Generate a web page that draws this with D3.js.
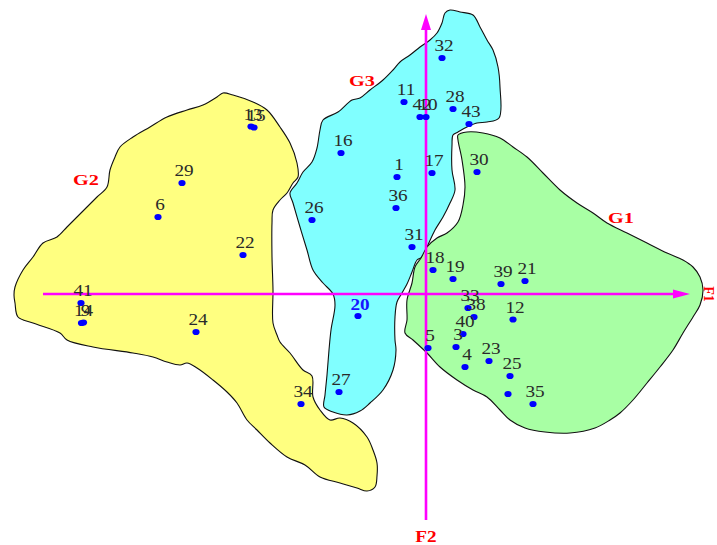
<!DOCTYPE html>
<html>
<head>
<meta charset="utf-8">
<script src="https://cdn.jsdelivr.net/npm/d3@7"></script>
<style>
  html, body { margin: 0; padding: 0; background: #ffffff; }
  svg { display: block; }
</style>
</head>
<body>
<svg id="chart" width="717" height="545"></svg>
<script>
// Individuals on the F1 x F2 factorial plane
const pointIds = ["1","3","4","5","6","9","10","11","12","13","14","15","16","17","18","19","20","21","22","23",
                  "24","25","26","27","28","29","30","31","32","33","34","35","36","","38","39","40","41","42","43"];
const f1Values = [-0.29, 0.30, 0.39, 0.02, -2.68, -3.425, 0.00, -0.22, 0.87, -1.75, -3.445, -1.72, -0.85, 0.06, 0.07, 0.27, -0.68, 0.99, -1.83, 0.63,
                  -2.30, 0.84, -1.14, -0.87, 0.27, -2.44, 0.51, -0.14, 0.16, 0.42, -1.25, 1.07, -0.30, 0.82, 0.48, 0.75, 0.37, -3.45, -0.06, 0.43];
const f2Values = [1.17, -0.53, -0.73, -0.54, 0.77, -0.285, 1.77, 1.92, -0.255, 1.675, -0.29, 1.665, 1.41, 1.21, 0.24, 0.15, -0.22, 0.13, 0.39, -0.67,
                  -0.38, -0.82, 0.74, -0.98, 1.85, 1.11, 1.22, 0.47, 2.36, -0.14, -1.10, -1.10, 0.86, -1.00, -0.23, 0.10, -0.40, -0.09, 1.77, 1.70];
const blueLabelIds = ["20"];

// Axis extents in factor units
const f1AxisRange = [-3.83, 2.64];
const f2AxisRange = [-2.26, 2.80];

// Group envelopes (F1, F2)
const g2Outline = [[-4.11,-0.09],[-4.12,-0.01],[-4.11,0.07],[-4.03,0.24],[-3.93,0.37],[-3.83,0.51],[-3.69,0.57],[-3.59,0.67],
  [-3.49,0.77],[-3.39,0.87],[-3.29,0.97],[-3.19,1.07],[-3.16,1.24],[-3.11,1.37],[-3.06,1.47],[-2.93,1.57],[-2.76,1.67],
  [-2.59,1.77],[-2.39,1.84],[-2.23,1.89],[-2.09,1.97],[-2.03,2.01],[-1.93,1.99],[-1.73,1.92],[-1.59,1.84],[-1.46,1.67],
  [-1.36,1.51],[-1.29,1.31],[-1.28,1.17],[-1.33,1.11],[-1.39,1.01],[-1.46,0.94],[-1.53,0.84],[-1.54,0.71],[-1.54,0.37],
  [-1.53,0.04],[-1.53,-0.29],[-1.49,-0.41],[-1.46,-0.48],[-1.36,-0.59],[-1.23,-0.76],[-1.14,-0.82],[-1.13,-1.03],
  [-1.06,-1.16],[-0.96,-1.26],[-0.86,-1.24],[-0.73,-1.29],[-0.59,-1.43],[-0.53,-1.56],[-0.49,-1.69],[-0.49,-1.82],
  [-0.51,-1.93],[-0.59,-1.97],[-0.69,-1.94],[-0.86,-1.89],[-1.06,-1.83],[-1.21,-1.71],[-1.39,-1.63],[-1.56,-1.49],
  [-1.69,-1.36],[-1.79,-1.26],[-1.89,-1.09],[-1.99,-0.98],[-2.13,-0.86],[-2.29,-0.74],[-2.39,-0.69],[-2.46,-0.71],
  [-2.59,-0.68],[-2.73,-0.63],[-2.93,-0.59],[-3.33,-0.53],[-3.59,-0.46],[-3.66,-0.39],[-3.93,-0.29],[-4.08,-0.23]];

const g3Outline = [[0.19,2.81],[0.24,2.84],[0.34,2.82],[0.47,2.79],[0.54,2.67],[0.61,2.54],[0.67,2.44],[0.72,2.27],
  [0.74,2.07],[0.73,1.76],[0.61,1.72],[0.51,1.71],[0.41,1.67],[0.32,1.62],[0.27,1.59],[0.26,1.49],[0.26,1.24],
  [0.29,1.04],[0.24,0.91],[0.17,0.77],[0.09,0.64],[0.01,0.47],[-0.04,0.37],[-0.09,0.34],[-0.14,0.22],[-0.19,0.10],
  [-0.24,0.01],[-0.29,-0.08],[-0.31,-0.23],[-0.31,-0.46],[-0.30,-0.56],[-0.33,-0.76],[-0.43,-0.96],[-0.56,-1.09],
  [-0.66,-1.17],[-0.79,-1.21],[-0.93,-1.18],[-1.02,-1.13],[-1.01,-1.01],[-0.99,-0.81],[-0.97,-0.56],[-0.95,-0.36],
  [-0.91,-0.11],[-0.93,0.00],[-1.03,0.11],[-1.13,0.24],[-1.19,0.44],[-1.26,0.67],[-1.33,0.91],[-1.36,1.01],
  [-1.29,1.11],[-1.23,1.22],[-1.14,1.32],[-1.09,1.46],[-1.06,1.64],[-1.03,1.74],[-0.88,1.82],[-0.74,1.94],
  [-0.66,1.96],[-0.56,2.04],[-0.43,2.14],[-0.33,2.24],[-0.26,2.32],[-0.16,2.39],[-0.06,2.47],[0.04,2.54],
  [0.11,2.61],[0.16,2.71]];

const g1Outline = [[0.32,1.59],[0.41,1.62],[0.57,1.61],[0.74,1.56],[0.87,1.47],[1.01,1.37],[1.17,1.21],[1.34,1.04],
  [1.51,0.91],[1.67,0.81],[1.81,0.71],[2.01,0.61],[2.21,0.51],[2.41,0.41],[2.57,0.34],[2.67,0.27],[2.74,0.17],
  [2.77,0.04],[2.74,-0.11],[2.67,-0.23],[2.57,-0.39],[2.47,-0.56],[2.34,-0.73],[2.21,-0.89],[2.07,-1.06],
  [1.94,-1.19],[1.84,-1.26],[1.69,-1.34],[1.44,-1.39],[1.19,-1.38],[0.99,-1.34],[0.84,-1.26],[0.74,-1.16],
  [0.61,-1.03],[0.47,-0.96],[0.31,-0.86],[0.14,-0.73],[0.01,-0.59],[-0.13,-0.46],[-0.21,-0.39],[-0.19,-0.26],
  [-0.19,-0.06],[-0.14,0.11],[-0.11,0.27],[-0.05,0.36],[0.01,0.47],[0.11,0.56],[0.21,0.61],[0.32,0.72],
  [0.37,0.89],[0.39,1.07],[0.36,1.34],[0.32,1.54]];

const groupNames = ["G2", "G3", "G1"];
const groupOutlines = [g2Outline, g3Outline, g1Outline];
const groupFills = ["#ffff80", "#80ffff", "#a8ffa4"];
const groupLabelF1 = [-3.40, -0.64, 1.95];
const groupLabelF2 = [1.09, 2.08, 0.71];

const W = 717, H = 545;
const x = d3.scaleLinear().domain([-4.26, 2.91]).range([0, W]);
const y = d3.scaleLinear().domain([2.94, -2.51]).range([0, H]);

const svg = d3.select("#chart");
const serif = "'Liberation Serif', 'Times New Roman', serif";

// Envelopes
const outline = d3.line()
  .x(d => x(d[0])).y(d => y(d[1]))
  .curve(d3.curveCatmullRomClosed.alpha(0.5));

svg.append("g").selectAll("path")
  .data(groupOutlines)
  .join("path")
  .attr("d", d => outline(d))
  .attr("fill", (d, i) => groupFills[i])
  .attr("stroke", "#111")
  .attr("stroke-width", 1.1);

// Axes with arrowheads
const axisColor = "#ff00ff";
const axes = svg.append("g");
axes.append("line")
  .attr("x1", x(f1AxisRange[0])).attr("x2", x(f1AxisRange[1]) - 12)
  .attr("y1", y(0)).attr("y2", y(0))
  .attr("stroke", axisColor).attr("stroke-width", 2.6);
axes.append("line")
  .attr("x1", x(0)).attr("x2", x(0))
  .attr("y1", y(f2AxisRange[0])).attr("y2", y(f2AxisRange[1]) + 12)
  .attr("stroke", axisColor).attr("stroke-width", 2.6);
{
  const tx = x(f1AxisRange[1]), ty = y(0);
  axes.append("path")
    .attr("d", `M${tx},${ty} L${tx - 17},${ty - 4.5} L${tx - 17},${ty + 4.5} Z`)
    .attr("fill", axisColor);
  const vx = x(0), vy = y(f2AxisRange[1]);
  axes.append("path")
    .attr("d", `M${vx},${vy} L${vx - 5},${vy + 16} L${vx + 5},${vy + 16} Z`)
    .attr("fill", axisColor);
}

// Axis titles
svg.append("text")
  .attr("transform", `translate(${x(f1AxisRange[1]) + 14},${y(0)}) rotate(90)`)
  .attr("text-anchor", "middle")
  .attr("font-family", serif).attr("font-weight", "bold").attr("font-size", 14)
  .attr("fill", "#ff0000")
  .text("F1");
svg.append("text")
  .attr("transform", `translate(${x(0)},${y(f2AxisRange[0]) + 22}) scale(1.2,1)`)
  .attr("text-anchor", "middle")
  .attr("font-family", serif).attr("font-weight", "bold").attr("font-size", 16)
  .attr("fill", "#ff0000")
  .text("F2");

// Group titles
svg.append("g").selectAll("text")
  .data(groupNames)
  .join("text")
  .attr("transform", (d, i) => `translate(${x(groupLabelF1[i])},${y(groupLabelF2[i])}) scale(1.35,1)`)
  .attr("text-anchor", "middle")
  .attr("font-family", serif).attr("font-weight", "bold").attr("font-size", 15)
  .attr("fill", "#ff0000")
  .text(d => d);

// Points
const pts = pointIds.map((id, i) => ({ id, f1: f1Values[i], f2: f2Values[i] }));

svg.append("g").selectAll("ellipse")
  .data(pts)
  .join("ellipse")
  .attr("cx", d => x(d.f1))
  .attr("cy", d => y(d.f2))
  .attr("rx", 3.6).attr("ry", 3.1)
  .attr("fill", "#0000ff");

svg.append("g").selectAll("text")
  .data(pts.filter(d => d.id !== ""))
  .join("text")
  .attr("transform", d => {
    const blue = blueLabelIds.includes(d.id);
    return `translate(${x(d.f1) + 2},${y(d.f2) - (blue ? 6 : 7)}) scale(1.2,1)`;
  })
  .attr("text-anchor", "middle")
  .attr("font-family", serif)
  .attr("font-size", 16)
  .attr("font-weight", d => blueLabelIds.includes(d.id) ? "bold" : "normal")
  .attr("fill", d => blueLabelIds.includes(d.id) ? "#1515ff" : "#2a2a2a")
  .text(d => d.id);
</script>
</body>
</html>
